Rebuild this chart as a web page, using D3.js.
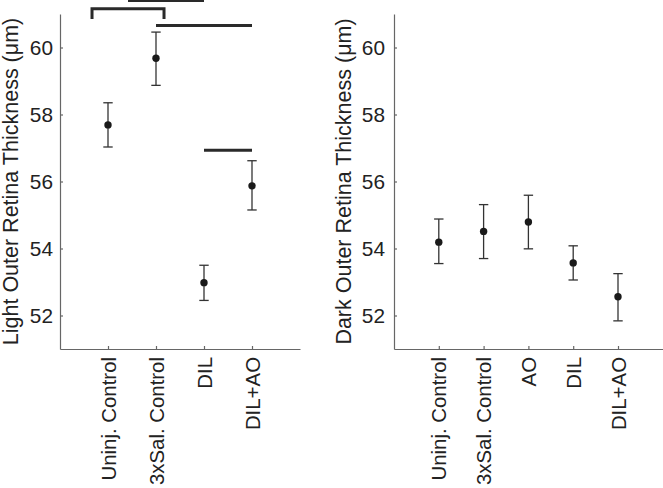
<!DOCTYPE html>
<html><head><meta charset="utf-8">
<script src="https://cdn.jsdelivr.net/npm/d3@7"></script>
<style>body{margin:0;background:#fff}svg{display:block}text{font-family:"Liberation Sans",Arial,Helvetica,sans-serif;fill:#222}</style>
</head><body><svg id="c" width="663" height="488"></svg>
<script>
const lightCats = ["Uninj. Control","3xSal. Control","DIL","DIL+AO"];
const lightMean = [57.69, 59.68, 52.98, 55.87];
const lightLow  = [57.03, 58.87, 52.45, 55.15];
const lightHigh = [58.35, 60.46, 53.50, 56.62];
// significance bars: [x1, x2, y, legDrop]
const lightSig = [
  [0.667, 2.167, 61.16, 0.31],
  [1.417, 3.0, 61.40, 0],
  [2.0, 4.0, 60.66, 0],
  [3.0, 4.0, 56.93, 0]
];
const darkCats = ["Uninj. Control","3xSal. Control","AO","DIL","DIL+AO"];
const darkMean = [54.19, 54.51, 54.79, 53.57, 52.56];
const darkLow  = [53.55, 53.70, 53.99, 53.06, 51.84];
const darkHigh = [54.88, 55.31, 55.59, 54.08, 53.25];
const yTicks = [52, 54, 56, 58, 60];
const yDomain = [51, 61];

const svg = d3.select("#c");
const FS_TICK = 20.8, FS_CAT = 20.4, FS_TITLE = 21.5;

function panel(opt){
  const g = svg.append("g");
  const x = d3.scaleLinear().domain([0, opt.cats.length+1]).range([opt.x0, opt.x1]);
  const y = d3.scaleLinear().domain(yDomain).range([349, 14]);
  const ya = g.append("g").attr("transform",`translate(${opt.x0},0)`)
    .call(d3.axisLeft(y).tickValues(yTicks).tickSizeInner(-3).tickSizeOuter(0).tickPadding(opt.tickPad));
  const xa = g.append("g").attr("transform",`translate(0,349)`)
    .call(d3.axisBottom(x).tickValues(d3.range(1, opt.cats.length+1)).tickFormat(i=>opt.cats[i-1]).tickSizeInner(-3).tickSizeOuter(0));
  [ya, xa].forEach(a=>{
    a.select(".domain").attr("stroke","#666").attr("stroke-width",1.2);
    a.selectAll(".tick line").attr("stroke","#666").attr("stroke-width",1.2);
    a.selectAll("text").attr("fill","#222").attr("font-family",'"Liberation Sans",Arial,sans-serif');
  });
  ya.selectAll("text").attr("font-size",FS_TICK);
  xa.selectAll(".tick text")
    .attr("font-size",FS_CAT)
    .attr("transform","rotate(-90)")
    .attr("text-anchor","end")
    .attr("x",-8).attr("y",0).attr("dy","0.35em");
  g.append("text")
    .attr("transform",`translate(${opt.titleX},${(349+14)/2}) rotate(-90)`)
    .attr("text-anchor","middle").attr("dy","0.35em")
    .attr("font-size",FS_TITLE).text(opt.title);
  const idx = d3.range(opt.cats.length);
  const eb = g.append("g").attr("stroke","#333").attr("stroke-width",1.3);
  idx.forEach(i=>{
    const cx = x(i+1);
    eb.append("line").attr("x1",cx).attr("x2",cx).attr("y1",y(opt.low[i])).attr("y2",y(opt.high[i]));
    eb.append("line").attr("x1",cx-4.7).attr("x2",cx+4.7).attr("y1",y(opt.low[i])).attr("y2",y(opt.low[i]));
    eb.append("line").attr("x1",cx-4.7).attr("x2",cx+4.7).attr("y1",y(opt.high[i])).attr("y2",y(opt.high[i]));
  });
  g.append("g").selectAll("circle").data(idx).join("circle")
    .attr("cx",i=>x(i+1)).attr("cy",i=>y(opt.mean[i])).attr("r",3.7).attr("fill","#1a1a1a");
  const sg = g.append("g").attr("fill","none").attr("stroke","#2a2a2a").attr("stroke-width",3);
  (opt.sig||[]).forEach(s=>{
    const p = d3.path();
    if (s[3] > 0){
      p.moveTo(x(s[0]), y(s[2]-s[3])); p.lineTo(x(s[0]), y(s[2])); p.lineTo(x(s[1]), y(s[2])); p.lineTo(x(s[1]), y(s[2]-s[3]));
    } else { p.moveTo(x(s[0]), y(s[2])); p.lineTo(x(s[1]), y(s[2])); }
    sg.append("path").attr("d", p.toString());
  });
}

panel({cats:lightCats, mean:lightMean, low:lightLow, high:lightHigh, sig:lightSig,
  x0:60, x1:300, tickPad:7, titleX:10, title:"Light Outer Retina Thickness (\u03bcm)"});
panel({cats:darkCats, mean:darkMean, low:darkLow, high:darkHigh, sig:[],
  x0:394, x1:662.8, tickPad:9, titleX:343, title:"Dark Outer Retina Thickness (\u03bcm)"});
</script></body></html>
